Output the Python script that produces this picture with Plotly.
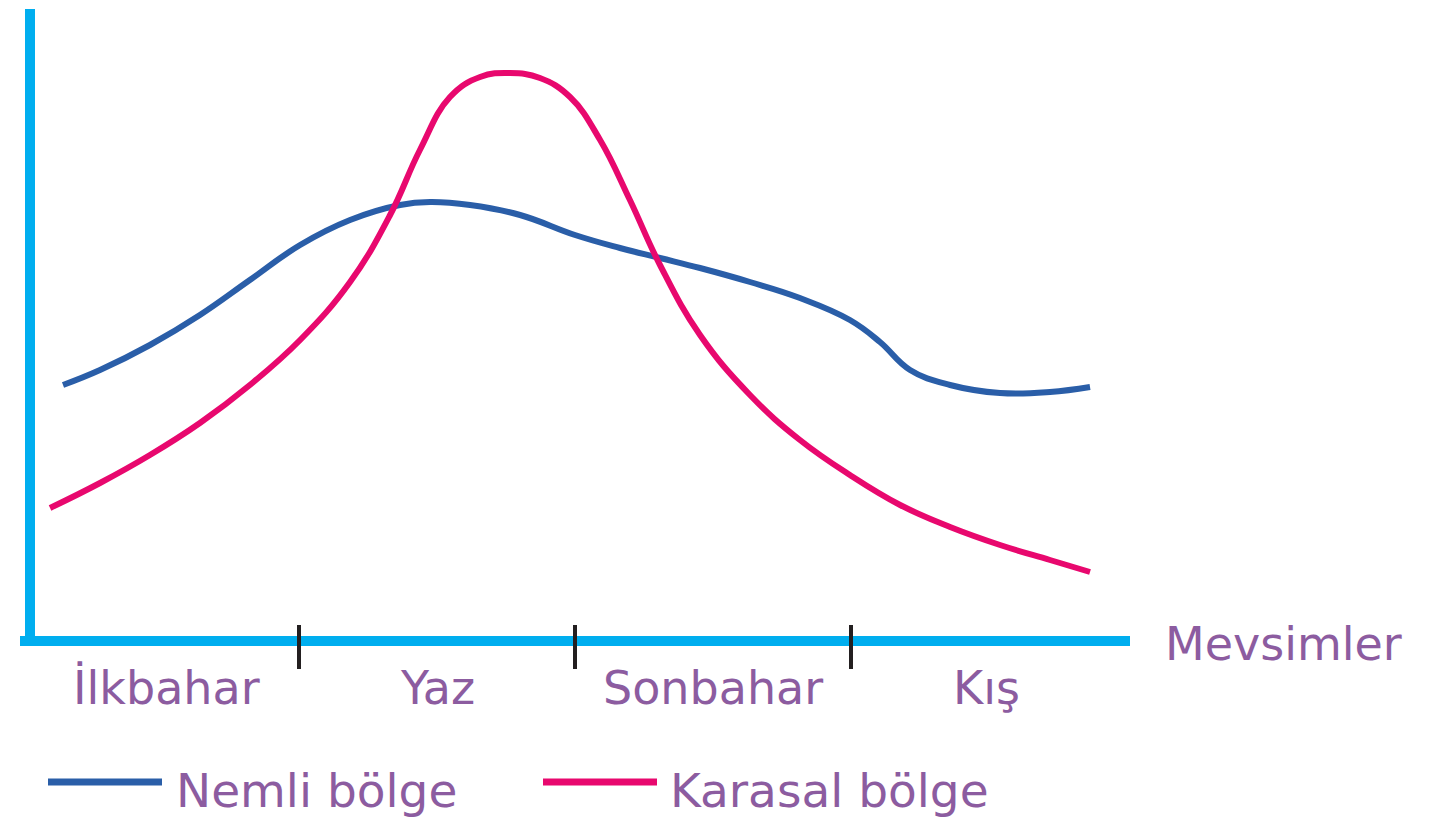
import plotly.graph_objects as go

# Seasons (x units: 0..4, one unit per season)
seasons = ["İlkbahar", "Yaz", "Sonbahar", "Kış"]
season_centers = [0.52, 1.5, 2.5, 3.49]
tick_positions = [1, 2, 3]

# Nemli bölge (humid region)
nemli_x = [0.145, 0.279, 0.46, 0.641, 0.822, 1.004, 1.185, 1.366, 1.475, 1.62, 1.801, 2.0,
           2.163, 2.308, 2.453, 2.634, 2.815, 2.996, 3.105, 3.214, 3.359, 3.54, 3.721, 3.866]
nemli_y = [25.5, 27.0, 29.5, 32.5, 36.0, 39.5, 42.0, 43.5, 43.8, 43.5, 42.5, 40.5,
           39.2, 38.2, 37.2, 35.8, 34.2, 32.0, 29.8, 27.0, 25.5, 24.7, 24.8, 25.3]

# Karasal bölge (continental region)
karasal_x = [0.098, 0.279, 0.46, 0.641, 0.822, 1.004, 1.185, 1.33, 1.438, 1.547, 1.656, 1.764,
             1.873, 1.982, 2.091, 2.199, 2.308, 2.453, 2.634, 2.815, 2.996, 3.178, 3.359,
             3.54, 3.721, 3.866]
karasal_y = [13.2, 15.7, 18.5, 21.7, 25.5, 30.0, 35.8, 42.5, 49.0, 54.3, 56.3, 56.7,
             56.2, 54.3, 50.0, 44.0, 37.5, 30.5, 24.5, 20.0, 16.5, 13.5, 11.3,
             9.5, 8.0, 6.8]

axis_title = "Mevsimler"
legend_names = ["Nemli bölge", "Karasal bölge"]

BLUE = "#2a5ea8"
PINK = "#e8086e"
AXIS = "#00aeef"
TEXT = "#8c5ca0"
FONT = "DejaVu Sans, Verdana, sans-serif"

W, H = 1450, 830
OFF = 8              # page body margin of the browser
X0, XS = 23 - OFF, 276.0   # figure px of x=0, px per unit
Y0, YS = 640 - OFF, 10.0   # figure py of y=0, px per unit


def px(p):
    return (p - OFF) / W


def py(p):
    return 1 - (p - OFF) / H


fig = go.Figure()
fig.add_trace(go.Scatter(x=nemli_x, y=nemli_y, mode="lines", name=legend_names[0],
                         line=dict(color=BLUE, width=6, shape="spline", smoothing=1.2),
                         showlegend=False, hoverinfo="skip"))
fig.add_trace(go.Scatter(x=karasal_x, y=karasal_y, mode="lines", name=legend_names[1],
                         line=dict(color=PINK, width=6, shape="spline", smoothing=1.2),
                         showlegend=False, hoverinfo="skip"))

shapes = []
# axes
shapes.append(dict(type="line", xref="paper", yref="paper", x0=px(30), x1=px(30),
                   y0=py(9), y1=py(646), line=dict(color=AXIS, width=10), layer="below"))
shapes.append(dict(type="line", xref="paper", yref="paper", x0=px(20), x1=px(1130),
                   y0=py(641), y1=py(641), line=dict(color=AXIS, width=10), layer="below"))
# season dividers
for t in tick_positions:
    shapes.append(dict(type="line", xref="x", yref="paper", x0=t, x1=t,
                       y0=py(625), y1=py(669), line=dict(color="#231f20", width=4)))
# legend lines
shapes.append(dict(type="line", xref="paper", yref="paper", x0=px(48), x1=px(162),
                   y0=py(782), y1=py(782), line=dict(color=BLUE, width=7)))
shapes.append(dict(type="line", xref="paper", yref="paper", x0=px(543), x1=px(657),
                   y0=py(782), y1=py(782), line=dict(color=PINK, width=7)))

annotations = []
for name, c in zip(seasons, season_centers):
    annotations.append(dict(x=c, xref="x", y=py(688), yref="paper", text=name,
                            showarrow=False, xanchor="center", yanchor="middle",
                            font=dict(family=FONT, size=46, color=TEXT)))
annotations.append(dict(x=px(1163), xref="paper", y=py(644), yref="paper", text=axis_title,
                        showarrow=False, xanchor="left", yanchor="middle",
                        font=dict(family=FONT, size=46, color=TEXT)))
annotations.append(dict(x=px(174), xref="paper", y=py(790), yref="paper", text=legend_names[0],
                        showarrow=False, xanchor="left", yanchor="middle",
                        font=dict(family=FONT, size=47, color=TEXT)))
annotations.append(dict(x=px(668), xref="paper", y=py(790), yref="paper", text=legend_names[1],
                        showarrow=False, xanchor="left", yanchor="middle",
                        font=dict(family=FONT, size=47, color=TEXT)))

fig.update_layout(
    width=W, height=H,
    margin=dict(l=0, r=0, t=0, b=0),
    paper_bgcolor="white", plot_bgcolor="white",
    xaxis=dict(range=[(0 - X0) / XS, (W - X0) / XS], visible=False, fixedrange=True),
    yaxis=dict(range=[(Y0 - H) / YS, Y0 / YS], visible=False, fixedrange=True),
    shapes=shapes, annotations=annotations,
    showlegend=False,
)

fig.write_html("out.html")
